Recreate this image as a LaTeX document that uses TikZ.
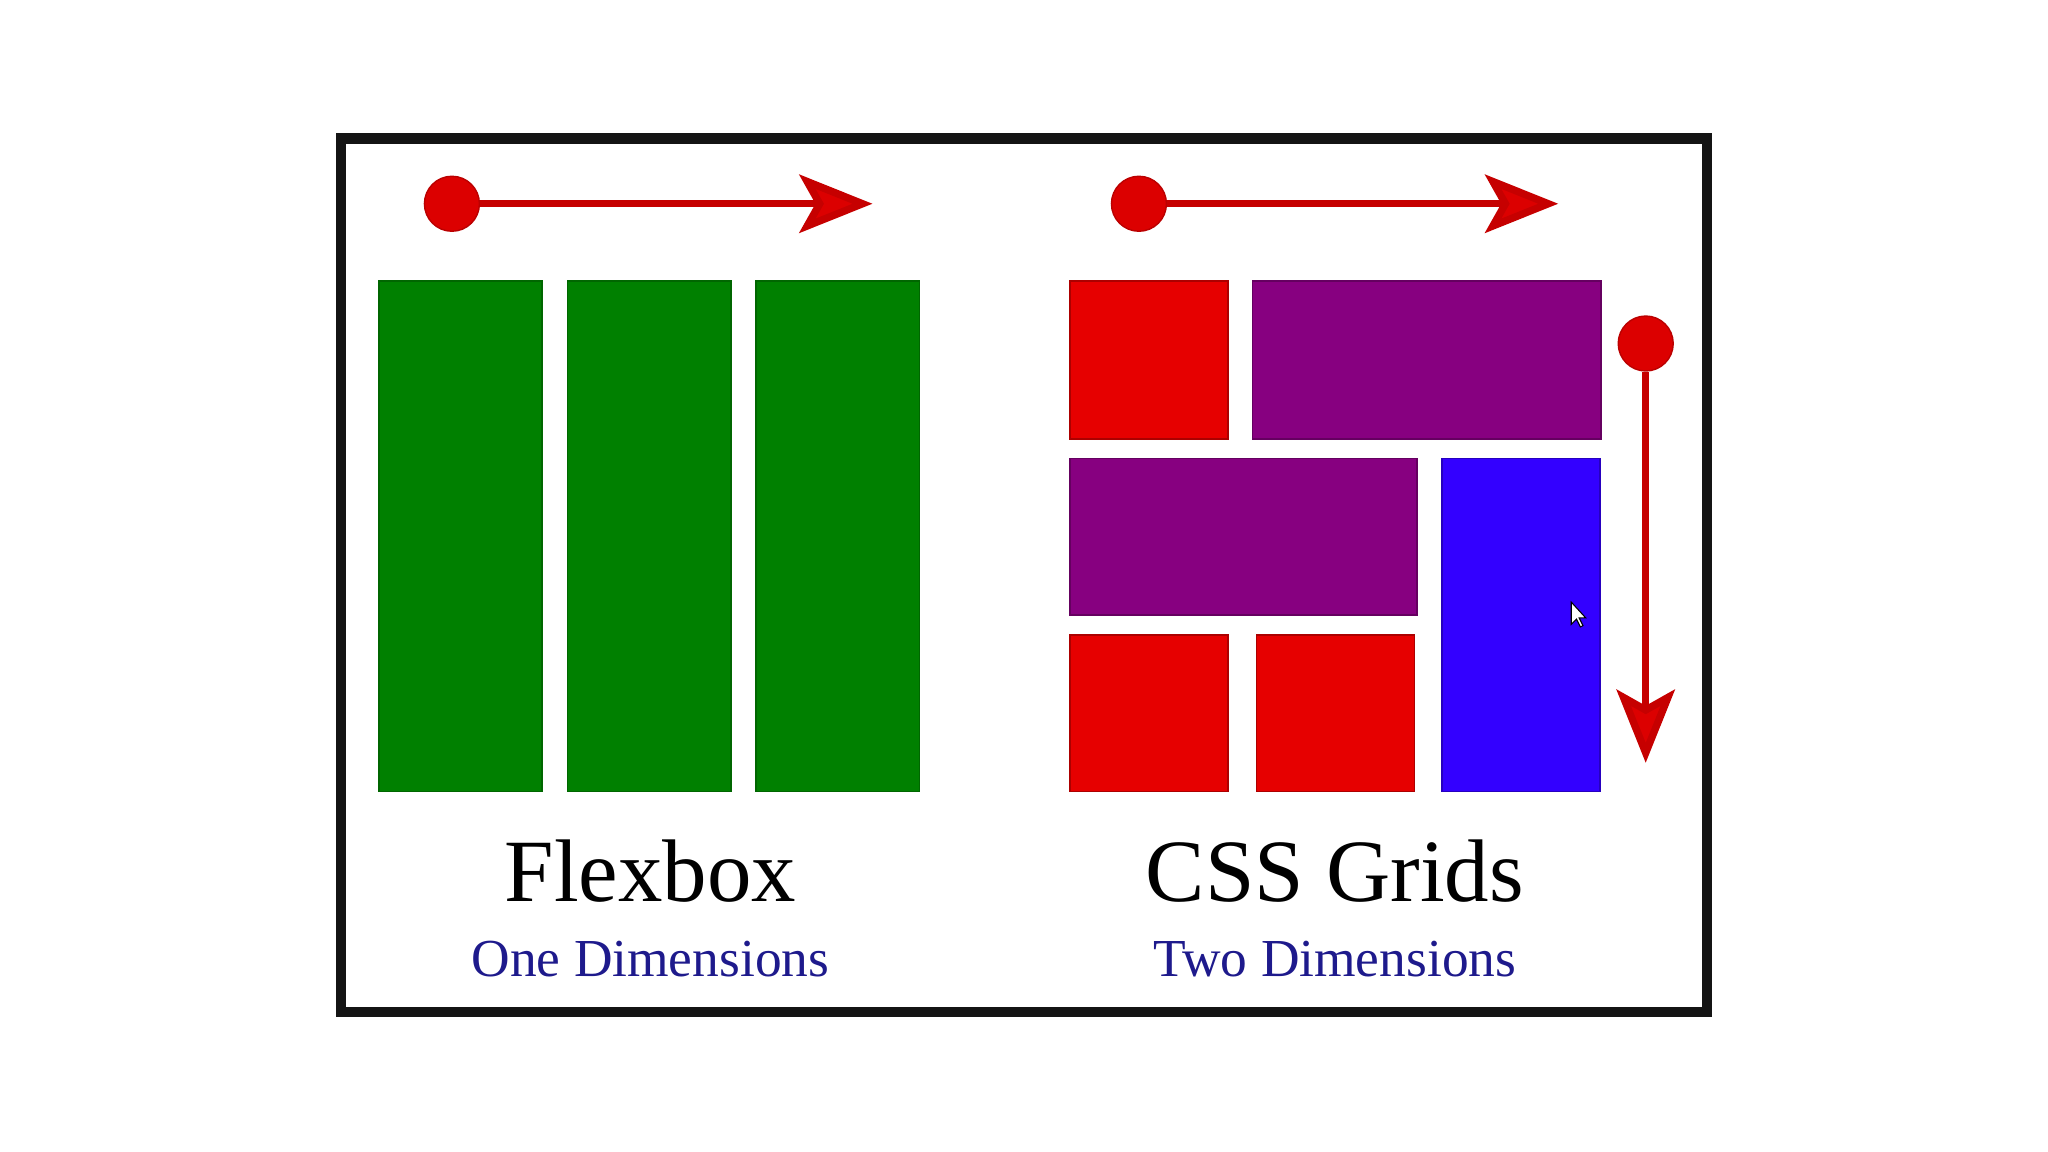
\documentclass[tikz,border=0pt]{standalone}
\usepackage{fontspec}
\setmainfont{Liberation Serif}
\usepackage{xcolor}
\usepackage{tikz}
\usetikzlibrary{arrows.meta}
\definecolor{arrowred}{HTML}{DC0000}
\definecolor{boxgreen}{HTML}{008000}
\definecolor{boxred}{HTML}{E60000}
\definecolor{boxpurple}{HTML}{870080}
\definecolor{boxblue}{HTML}{3300FF}
\definecolor{textblue}{HTML}{1E1A8C}
\tikzset{
  dot/.style={circle, inner sep=0pt, minimum size=0.55cm, fill=arrowred, draw=arrowred!85!black, line width=0.4pt},
  redarrow/.style={draw=arrowred!90!black, line width=2.1pt, -{Stealth[length=7.3mm, width=5.8mm, inset=1.6mm, fill=arrowred]}},
  tile/.style={line width=0.5pt},
  title/.style={anchor=base, font=\fontsize{25.3}{30}\selectfont},
  subtitle/.style={anchor=base, text=textblue, font=\fontsize{15.2}{18}\selectfont}
}

\begin{document}
\begin{tikzpicture}[x=0.013061cm, y=-0.013061cm]
   \useasboundingbox (0,0) rectangle (1568,882);
   \fill[white] (0,0) rectangle (1568,882);
   \draw [black!92, line width=0.105cm] (261,106) rectangle (1307,775);

   % flexbox side
   \node [dot] (startA) at (346,156) {};
   \coordinate (endA) at (668,156);
   \draw [redarrow] (startA) -- (endA);
   \foreach \i in {0,1,2}
      \filldraw [tile, fill=boxgreen, draw=boxgreen!80!black] ({290+144.5*\i},215) rectangle ({415+144.5*\i},606);
   \node [title] (flex) at (498,690) {Flexbox};
   \node [subtitle] (one) at (498,748) {One Dimensions};

   % grid side
   \node [dot] (startB) at (872,156) {};
   \coordinate (endB) at (1193,156);
   \draw [redarrow] (startB) -- (endB);
   \node [dot] (startC) at (1260,263) {};
   \coordinate (endC) at (1260,584);
   \draw [redarrow] (startC) -- (endC);
   \filldraw [tile, fill=boxred, draw=boxred!75!black] (819,215) rectangle (940,336);
   \filldraw [tile, fill=boxpurple, draw=boxpurple!75!black] (959,215) rectangle (1226,336);
   \filldraw [tile, fill=boxpurple, draw=boxpurple!75!black] (819,351) rectangle (1085,471);
   \filldraw [tile, fill=boxblue, draw=boxblue!75!black] (1104,351) rectangle (1225,606);
   \filldraw [tile, fill=boxred, draw=boxred!75!black] (819,486) rectangle (940,606);
   \filldraw [tile, fill=boxred, draw=boxred!75!black] (962,486) rectangle (1083,606);
   \node [title] (grid) at (1022,690) {CSS Grids};
   \node [subtitle] (two) at (1022,748) {Two Dimensions};

   % mouse pointer
   \filldraw [white, draw=black, line width=0.3pt] (1203,461) -- (1203,478) -- (1207,474) -- (1210,480) -- (1212,479) -- (1209,473) -- (1214,473) -- cycle;
\end{tikzpicture}
\end{document}
